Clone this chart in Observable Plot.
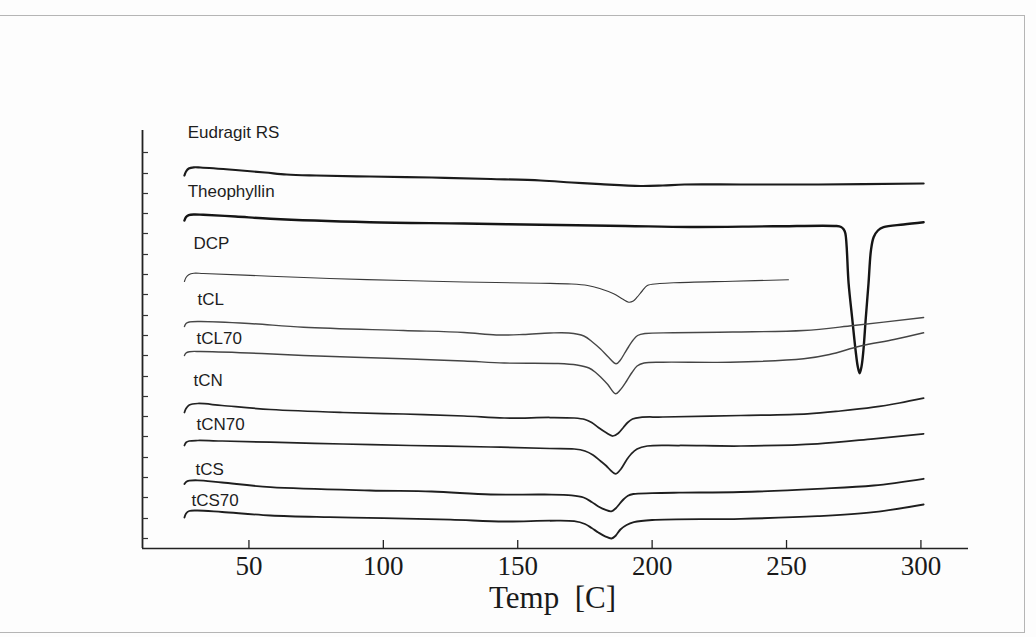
<!DOCTYPE html>
<html>
<head>
<meta charset="utf-8">
<script src="https://cdn.jsdelivr.net/npm/d3@7"></script>
<script src="https://cdn.jsdelivr.net/npm/@observablehq/plot@0.6"></script>
<style>
  body { margin: 0; background: #fff; }
  #wrap { position: relative; width: 1036px; height: 637px; overflow: hidden; background: #fdfdfd; }
  #scanframe { position: absolute; left: -2px; top: 15px; width: 1027px; height: 618px; border: 1px solid #b5b5b5; box-sizing: border-box; pointer-events: none; }
  #wrap svg { position: absolute; left: 0; top: 0; }
</style>
</head>
<body>
<div id="wrap"><div id="scanframe"></div></div>
<script>
// DSC thermograms: [temperature °C, heat-flow signal (arbitrary offset units)]
const eudragitRS = [[26,373],[26.6,377],[27.6,380],[29.5,381.2],[32,381],[45,378.5],[56,376],[64,374],[75,373],[95,372],[118,371],[140,369.5],[158.5,368],[170,366],[180.8,364.3],[195.7,362.5],[204,363],[212,364],[233,364],[262,364],[301,365]];
const theophyllin = [[26,328],[26.6,331.5],[27.6,333.3],[29.5,334],[33,333.7],[45,332],[58,329.7],[95,326.3],[130,325],[158.5,323.7],[190,322.5],[214,321.5],[245,322.2],[268.5,322.5],[270.3,321.5],[271.3,319],[271.9,315],[273.1,265],[274.4,231],[275.7,198],[276.5,182],[277.2,175.3],[277.9,182],[278.6,198],[279.5,231],[280.5,265],[281.4,298],[282.4,311.3],[284,318],[286.1,321.3],[293.5,324],[301,326.3]];
const dcp = [[26,267],[26.6,271],[27.6,273.8],[29.5,275.3],[33,275],[58,272.3],[80,270],[107.5,268],[130,266.5],[158.5,265.3],[170,264.5],[176,263],[180.5,260],[185.7,254.7],[189,249.5],[191.3,246.3],[193,247.5],[194.4,251.3],[196.3,257.5],[198.2,263],[202,264.8],[208,265.7],[230,267.3],[250.7,268.7]];
const tCL = [[26,222],[26.6,225],[27.8,226.5],[32,227],[50,225],[70.3,221.3],[107.5,218],[130,216],[142,213.5],[152,214],[162,215.5],[169,215.5],[174.6,212.5],[178,206],[180.8,199.5],[183.7,191.5],[186.6,184.7],[188.2,188.5],[189.7,195],[191.2,201.5],[192.8,208],[194.6,213],[197.5,215],[208,215.7],[230,216.5],[256.4,218],[275,223],[301,231]];
const tCL70 = [[26,193],[26.6,195.5],[27.8,196.8],[32,197],[50,195.5],[70.3,193],[107.5,189.7],[130,187.5],[145,185.5],[165,185],[172,183.5],[176.5,180.5],[179,176],[181.2,170.5],[183.5,164],[186.4,154.7],[188.1,158.5],[190.5,167.5],[192.5,176],[194.4,182.5],[197,185.5],[204,186.3],[229,186.3],[256.4,189.7],[266,194],[277.5,202.5],[290,209],[301,215.7]];
const tCN = [[26,136],[26.6,140],[27.8,143.5],[31,145],[40,143],[58,139],[85,136],[107.5,134.5],[130,132.5],[145,130.5],[162,131],[171,130.5],[175,129],[177.5,126],[180,121],[182.8,116],[185.4,112.5],[187.5,115.5],[189.3,121],[190.9,126],[192.7,129.5],[195.7,131.2],[204,131.5],[233,133],[257.8,134.7],[270,137.5],[282.4,141.3],[292,145.5],[301,150.3]];
const tCN70 = [[26,103],[26.6,106],[27.8,107.5],[31,108],[40,107.5],[58,106.3],[85,104.5],[110,103],[140,101.5],[162,100],[171,99.5],[175,97.5],[178,93.5],[180.8,87.5],[183,82.5],[184.8,77.5],[186.5,74.7],[188.4,79.5],[190.5,88.5],[192.2,94.5],[194.4,99.5],[198.2,102.5],[210,103],[233,102.5],[261.5,104.7],[282.4,109.7],[301,114.7]];
const tCS = [[26,64.5],[26.6,66.5],[27.8,67.8],[30.9,68.2],[40,66],[58,61.3],[95,58],[118,57],[140,54],[160,54],[170,53.2],[174.5,51],[177.5,46.5],[180,42],[182.5,38.8],[184.8,37.2],[186.5,40.3],[188,45],[189.5,49.5],[191,52.8],[193,54.5],[200,55.3],[210,55.8],[233,56.5],[261.5,59.7],[282.4,63],[301,69.7]];
const tCS70 = [[26,31],[26.6,35],[27.8,37.5],[30.9,38],[40,36.5],[58,33],[80,31.3],[100,30.3],[125,28.8],[145,27],[162,27.8],[171,27.3],[175,24.5],[177.5,20.5],[180,16],[182.5,12.2],[184.9,10],[186.5,13],[188.2,19],[190.5,23.5],[193.2,26.3],[200,28.5],[233,29.7],[261.5,32.3],[282.4,36.3],[301,44]];

const seriesNames = ["Eudragit RS","Theophyllin","DCP","tCL","tCL70","tCN","tCN70","tCS","tCS70"];
const seriesData  = [eudragitRS, theophyllin, dcp, tCL, tCL70, tCN, tCN70, tCS, tCS70];

// curve labels: [temperature, signal] where each name sits
const labelTemp   = [27.2, 27.2, 29.4, 30.9, 30.5, 29.4, 30.5, 30.1, 28.6];
const labelSignal = [416, 356.5, 305, 248.5, 209.5, 168, 124, 78.5, 47.5];

const xTicks = [50, 100, 150, 200, 250, 300];
const yTicks = [10, 30, 51, 71, 91, 112, 132, 152, 172, 193, 213, 233, 254, 274, 294, 315, 335, 355, 375, 396];
const xTitle = "Temp  [C]";

// styles (kept separate from data)
const widths = {"Eudragit RS": 2.2, "Theophyllin": 2.4, "DCP": 1.15, "tCL": 1.4, "tCL70": 1.4, "tCN": 1.75, "tCN70": 1.75, "tCS": 1.85, "tCS70": 1.85};
const colors = {"Eudragit RS": "#1b1b1b", "Theophyllin": "#151515", "DCP": "#3a3a3a", "tCL": "#474747", "tCL70": "#444", "tCN": "#222", "tCN70": "#222", "tCS": "#1e1e1e", "tCS70": "#1e1e1e"};

const labels = seriesNames.map((n, i) => ({name: n, temp: labelTemp[i], signal: labelSignal[i]}));

const lineMarks = seriesNames.map((name, i) =>
  Plot.line(seriesData[i].map(([t, s]) => ({temp: t, signal: s})), {
    x: "temp", y: "signal", curve: "catmull-rom",
    stroke: colors[name], strokeWidth: widths[name], strokeLinejoin: "round", strokeLinecap: "round"
  })
);

const chart = Plot.plot({
  width: 1036,
  height: 637,
  marginLeft: 142,
  marginRight: 68,
  marginTop: 130,
  marginBottom: 89,
  style: {background: "transparent", color: "#1a1a1a"},
  x: {domain: [10.4, 317.7], label: null},
  y: {domain: [0, 418], label: null},
  marks: [
    Plot.ruleY([0], {stroke: "#222", strokeWidth: 1.6}),
    Plot.ruleX([10.4], {stroke: "#222", strokeWidth: 1.8}),
    Plot.axisX({ticks: xTicks, tickSize: -8, tickFormat: () => "", stroke: "#222", strokeWidth: 1.3, label: null}),
    Plot.axisX({ticks: xTicks, tickSize: 0, tickPadding: 7, fontSize: 27, fontFamily: "Liberation Serif", fill: "#1a1a1a", label: null}),
    Plot.axisY({ticks: yTicks, tickSize: -6, tickFormat: () => "", stroke: "#333", strokeWidth: 1.2, label: null}),
    ...lineMarks,
    Plot.text(labels, {x: "temp", y: "signal", text: "name", textAnchor: "start", fontSize: 17, fontFamily: "Liberation Sans", fill: "#1e1e1e"}),
    Plot.text([xTitle], {frameAnchor: "bottom", dy: 59, dx: -3, fontSize: 31, fontFamily: "Liberation Serif", fill: "#1a1a1a"})
  ]
});
document.getElementById("wrap").appendChild(chart);
</script>
</body>
</html>
